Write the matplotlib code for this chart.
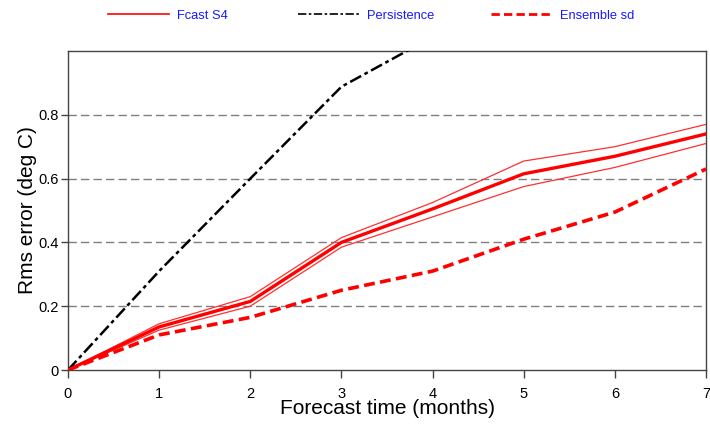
import matplotlib
matplotlib.use("Agg")
import matplotlib.pyplot as plt

plt.rcParams['font.family'] = ['Liberation Sans', 'DejaVu Sans']

months = [0, 1, 2, 3, 4, 5, 6, 7]
fcast_s4 = [0.0, 0.135, 0.215, 0.400, 0.505, 0.615, 0.670, 0.740]
fcast_s4_upper = [0.0, 0.145, 0.230, 0.415, 0.525, 0.655, 0.700, 0.770]
fcast_s4_lower = [0.0, 0.125, 0.200, 0.385, 0.480, 0.575, 0.635, 0.710]
persistence_months = [0, 1, 2, 3, 4]
persistence = [0.0, 0.310, 0.600, 0.888, 1.044]
ensemble_sd = [0.0, 0.110, 0.165, 0.250, 0.310, 0.410, 0.495, 0.630]

fig = plt.figure(figsize=(7.10, 4.26), dpi=100)
ax = fig.add_axes([68/710, 1 - 370/426, (706-68)/710, (370-51)/426])

for y in [0.2, 0.4, 0.6, 0.8]:
    ax.axhline(y, color='#7f7f7f', lw=1.0, ls=(0, (6, 3)), zorder=1)

dash_dot = (0, (5, 1.5, 1.5, 1.5))
dash = (0, (3, 1.5))

ax.plot(months, fcast_s4_upper, color='#ff3030', lw=0.9, zorder=3)
ax.plot(months, fcast_s4_lower, color='#ff3030', lw=0.9, zorder=3)
ax.plot(months, fcast_s4, color='#ff0000', lw=2.4, zorder=4)
ax.plot(persistence_months, persistence, color='black', lw=1.8,
        ls=dash_dot, zorder=4)
ax.plot(months, ensemble_sd, color='#ff0000', lw=2.6, ls=dash, zorder=4)

ax.set_xlim(0, 7)
ax.set_ylim(0, 1.0)
ax.set_xticks(months)
ax.set_yticks([0, 0.2, 0.4, 0.6, 0.8])
ax.set_yticklabels(['0', '0.2', '0.4', '0.6', '0.8'])
ax.tick_params(axis='both', direction='out', width=1, color='#444444',
               labelsize=10.5)
ax.tick_params(axis='x', length=6, pad=6)
ax.tick_params(axis='y', length=5, pad=2)
for s in ax.spines.values():
    s.set_color('#444444')
    s.set_linewidth(1.0)

ax.set_xlabel('Forecast time (months)', fontsize=15, labelpad=-1)
ax.set_ylabel('Rms error (deg C)', fontsize=15, labelpad=1)

# Legend entries laid out in a row above the axes, one legend per entry
entries = [
    (plt.Line2D([], [], color='#ff0000', lw=1.2), 'Fcast S4', 108),
    (plt.Line2D([], [], color='black', lw=1.2, ls=dash_dot), 'Persistence', 298),
    (plt.Line2D([], [], color='#ff0000', lw=2.0, ls=dash), 'Ensemble sd', 491),
]
for handle, label, x0 in entries:
    leg = fig.legend([handle], [label], loc='center left',
                     bbox_to_anchor=(x0 / 710, 1 - 16 / 426),
                     frameon=False, fontsize=9.3, handlelength=4.7,
                     handletextpad=0.62, borderpad=0, borderaxespad=0)
    for t in leg.get_texts():
        t.set_color('#1a1aff')

fig.savefig('out.png', dpi=100)
